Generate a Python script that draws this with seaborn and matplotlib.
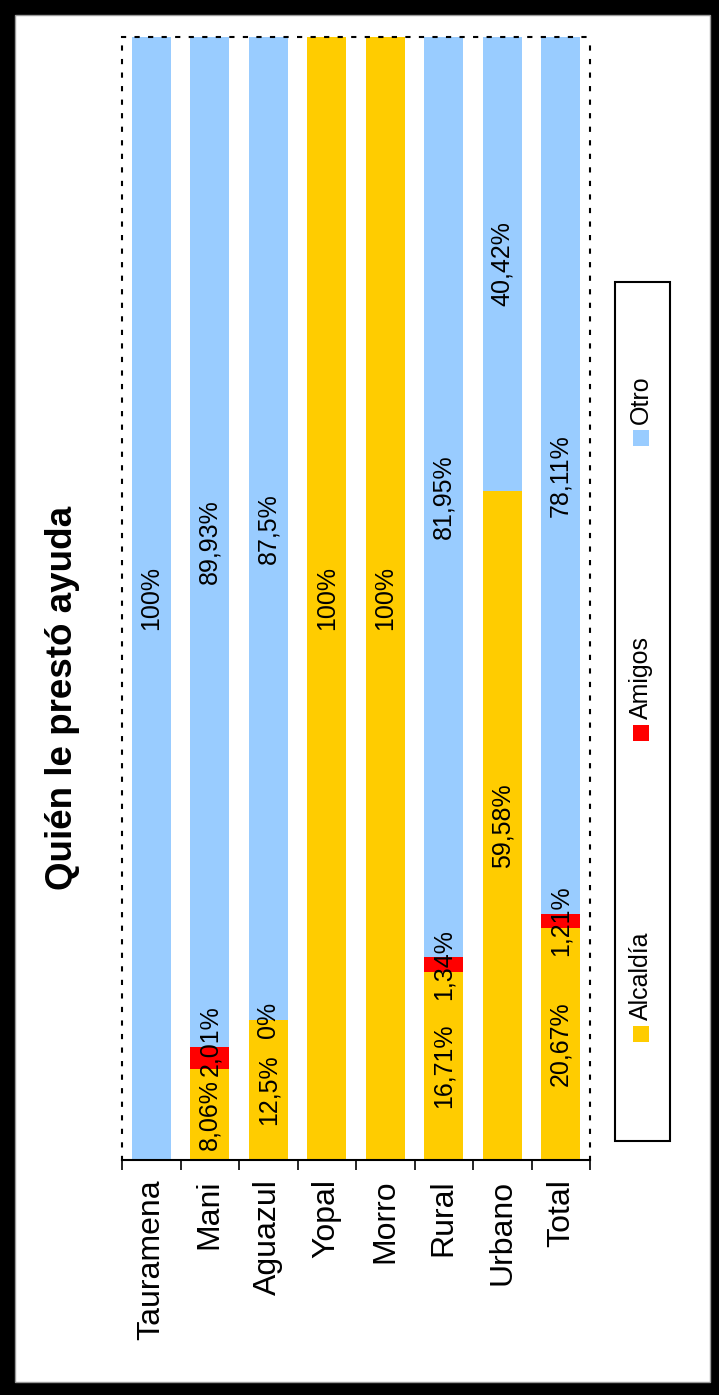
import numpy as np
import pandas as pd
import matplotlib
matplotlib.use("Agg")
import matplotlib.pyplot as plt
from matplotlib.patches import Rectangle
import seaborn as sns

sns.set_style("white")
plt.rcParams["font.family"] = ["Liberation Sans", "DejaVu Sans"]
plt.rcParams["text.color"] = "black"
plt.rcParams["xtick.color"] = "black"
plt.rcParams["xtick.labelcolor"] = "black"

# datos (None = sin etiqueta / sin segmento)
categorias = ["Tauramena", "Mani", "Aguazul", "Yopal", "Morro", "Rural", "Urbano", "Total"]
alcaldia = [None, 8.06, 12.5, 100, 100, 16.71, 59.58, 20.67]
amigos = [None, 2.01, 0, None, None, 1.34, None, 1.21]
otro = [100, 89.93, 87.5, None, None, 81.95, 40.42, 78.11]
series = ["Alcaldía", "Amigos", "Otro"]
colores = ["#FFCC00", "#FF0000", "#99CCFF"]
titulo = "Quién le prestó ayuda"

W, H = 719, 1395
fig = plt.figure(figsize=(W / 100, H / 100), dpi=100, facecolor="black")

def fx(px):
    return px / W

def fy(py):
    return 1 - py / H

# fondo blanco dentro del marco negro
fig.add_artist(Rectangle((fx(15), fy(1382)), fx(710) - fx(15), fy(15) - fy(1382),
                         transform=fig.transFigure, facecolor="white",
                         edgecolor="#9a9a9a", lw=1, zorder=-5))

ax = fig.add_axes([fx(122), fy(1160), fx(590) - fx(122), fy(37) - fy(1160)])
ax.set_facecolor("white")

df = pd.DataFrame({"cat": categorias, "Alcaldía": alcaldia, "Amigos": amigos, "Otro": otro})
vals = df[series].astype(float).fillna(0)
cum = vals.cumsum(axis=1)

# barras apiladas: primero la acumulada mas alta
for s, c in zip(series[::-1], colores[::-1]):
    sns.barplot(x=df["cat"], y=cum[s], color=c, saturation=1, width=0.675,
                errorbar=None, ax=ax, edgecolor="none", linewidth=0)

# etiquetas de datos
etiquetas = []
for i in range(len(categorias)):
    base = 0
    fila = []
    for s in series:
        v = df[s][i]
        h = vals[s][i]
        if pd.notna(v):
            txt = f"{v:g}".replace(".", ",") + "%"
            t = ax.text(i, base + h / 2, txt, rotation=90, ha="center", va="center",
                        fontsize=18, color="black")
            fila.append(t)
        base += h
    etiquetas.append(fila)

ax.set_xlim(-0.5, len(categorias) - 0.5)
ax.set_ylim(0, 100)
ax.set_yticks([])
ax.set_xlabel("")
ax.set_ylabel("")
ax.set_xticks(range(len(categorias)))
ax.set_xticklabels(categorias, rotation=90, fontsize=23)
ax.set_xticks(np.arange(-0.5, len(categorias)), minor=True)
ax.tick_params(axis="x", which="major", length=0, pad=14, bottom=True, labelcolor="black")
ax.tick_params(axis="x", which="minor", length=7, width=1.2, color="black",
               direction="out", bottom=True)
for side in ["left", "top", "right"]:
    ax.spines[side].set_linestyle((0, (1.5, 5)))
    ax.spines[side].set_linewidth(1.5)
    ax.spines[side].set_color("black")
ax.spines["bottom"].set_linewidth(1.5)
ax.spines["bottom"].set_color("black")

# separar etiquetas que se pisan dentro de una misma barra
fig.canvas.draw()
rend = fig.canvas.get_renderer()
px_por_unidad = ax.get_window_extent(rend).height / 100
for fila in etiquetas:
    for prev, cur in zip(fila[:-1], fila[1:]):
        bp = prev.get_window_extent(rend)
        bc = cur.get_window_extent(rend)
        if bc.y0 < bp.y1 + 3:
            dx, dy = cur.get_position()
            cur.set_position((dx, dy + (bp.y1 + 3 - bc.y0) / px_por_unidad))

# leyenda (girada)
fig.add_artist(Rectangle((fx(615), fy(1141)), fx(670) - fx(615), fy(282) - fy(1141),
                         transform=fig.transFigure, facecolor="white",
                         edgecolor="black", lw=1.5))
leg_y = [1034, 733, 438]
for s, c, yc in zip(series, colores, leg_y):
    fig.add_artist(Rectangle((fx(641 - 8), fy(yc + 8)), 16 / W, 16 / H,
                             transform=fig.transFigure, facecolor=c, edgecolor="none"))
    fig.text(fx(641), fy(yc - 14), s, rotation=90, ha="center", va="bottom", fontsize=18)

fig.text(fx(63), fy(698), titulo, rotation=90, ha="center", va="center",
         fontsize=26.5, fontweight="bold")

fig.savefig("out.png", dpi=100, facecolor="black")
